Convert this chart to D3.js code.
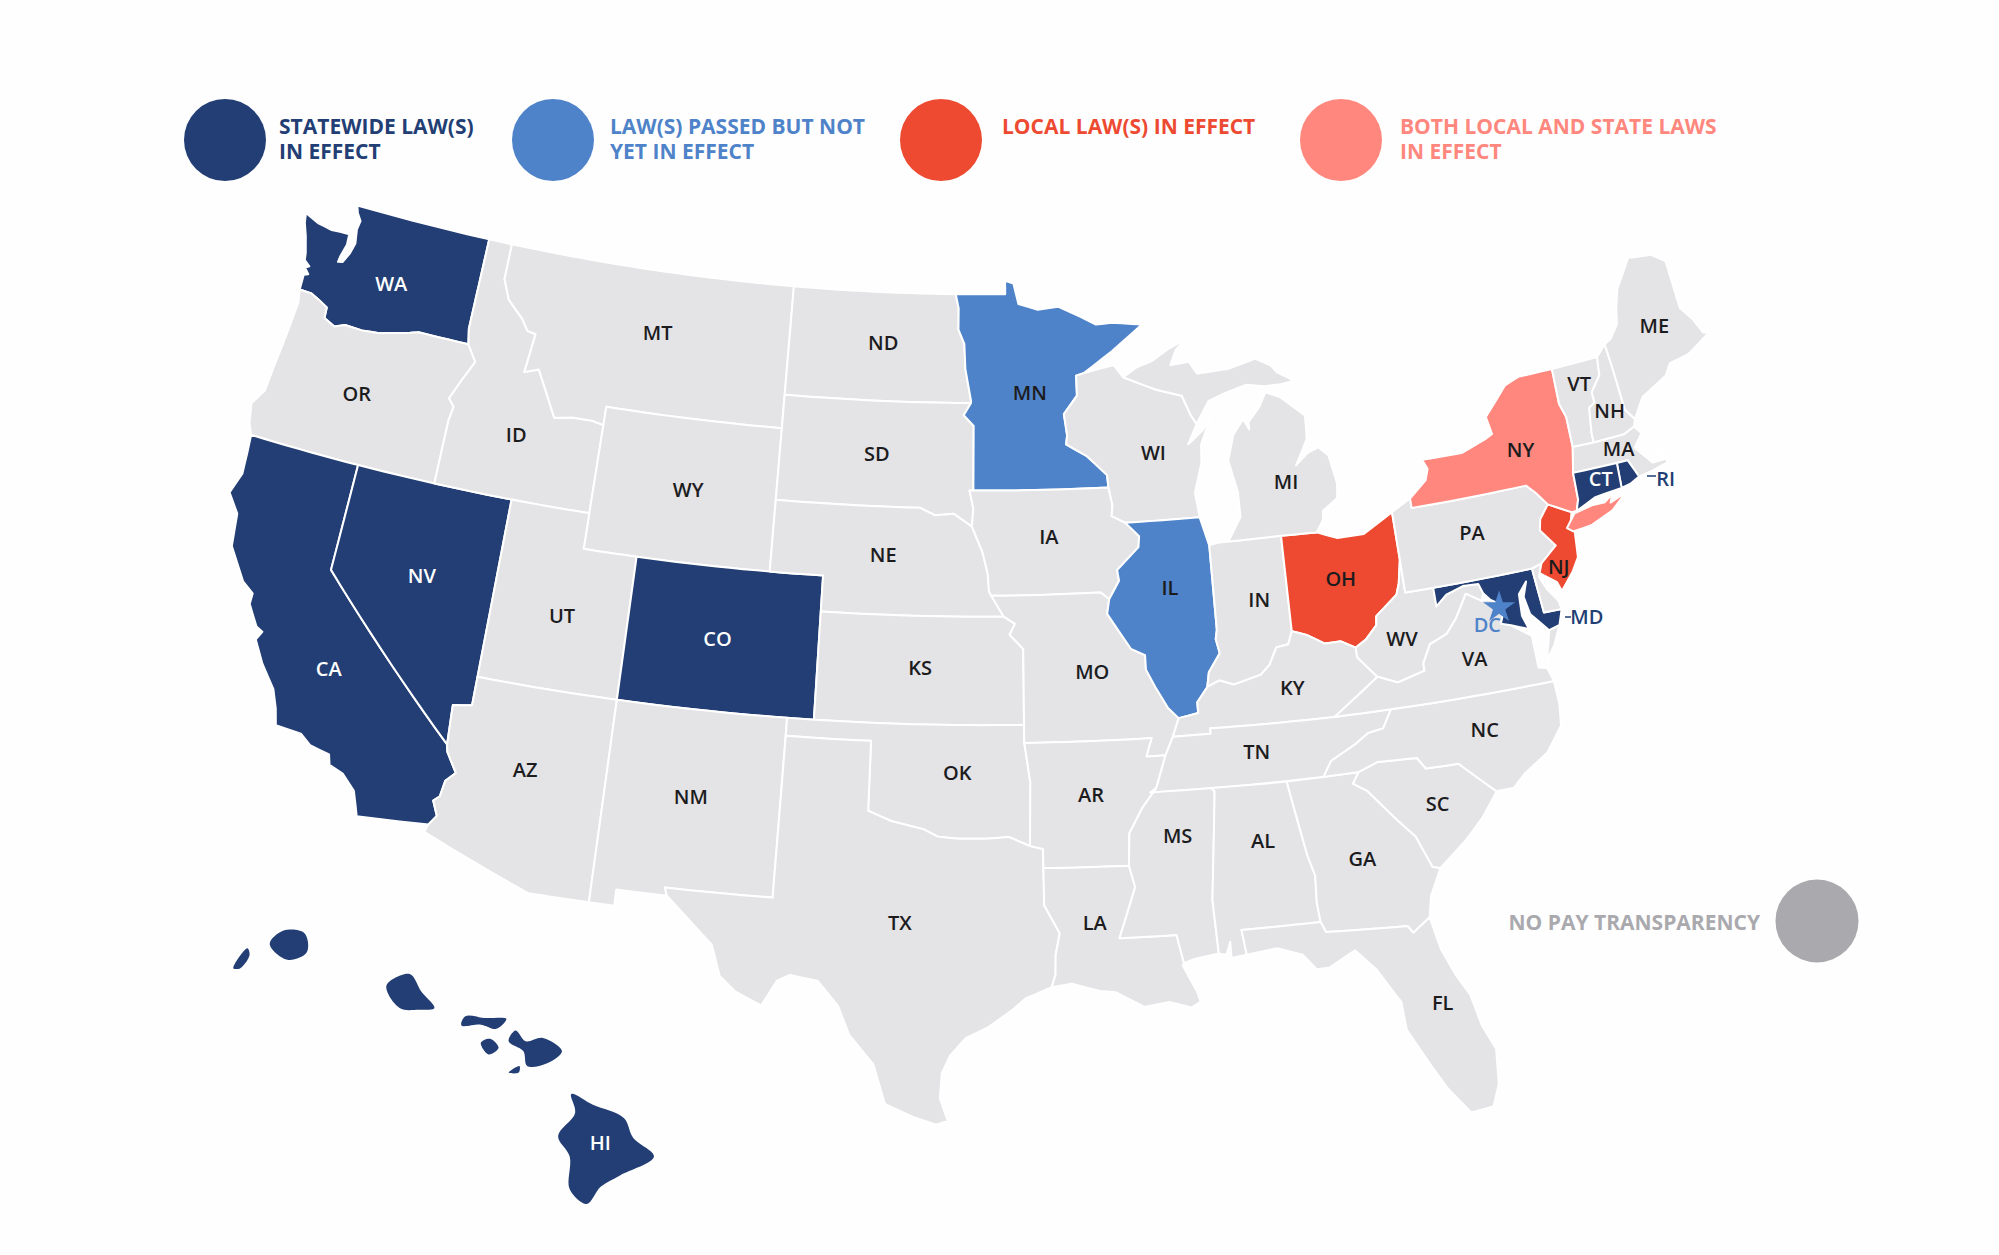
<!DOCTYPE html>
<html>
<head>
<meta charset="utf-8">
<script src="https://cdn.jsdelivr.net/npm/d3@7"></script>
<style>
  html, body { margin: 0; padding: 0; background: #fefefe; }
  svg { display: block; }
  text { font-family: "Open Sans", sans-serif; }
</style>
</head>
<body>
<svg id="map"></svg>
<script>
// Section for Data

// Which states fall under which law category
var statewide = ["WA", "CA", "NV", "CO", "CT", "RI", "MD", "HI"];
var passedNotYet = ["MN", "IL", "DC"];
var localOnly = ["OH", "NJ"];
var bothLocalState = ["NY"];

var legendLabels = [
    ["STATEWIDE LAW(S)", "IN EFFECT"],
    ["LAW(S) PASSED BUT NOT", "YET IN EFFECT"],
    ["LOCAL LAW(S) IN EFFECT"],
    ["BOTH LOCAL AND STATE LAWS", "IN EFFECT"]
];
var noLawLabel = "NO PAY TRANSPARENCY";

// State outlines as [lon, lat] rings, one inner array per landmass
var stateShapes = {
    WA: [[[-122.76,49],[-117.03,49],[-117.04,46.42],[-116.92,45.99],[-118.98,46],[-119.3,45.93],[-120.5,45.7],[-121.2,45.65],[-121.9,45.67],[-122.3,45.55],[-122.77,45.7],[-122.8,46],[-123.2,46.15],[-123.55,46.26],[-124.05,46.27],[-124.07,46.7],[-123.9,46.75],[-124.1,46.9],[-123.95,46.97],[-124.2,47.1],[-124.25,47.3],[-124.45,47.75],[-124.65,48.1],[-124.73,48.38],[-124.1,48.2],[-123.5,48.13],[-123.1,48.15],[-122.75,48.15],[-122.72,47.85],[-122.85,47.5],[-122.88,47.32],[-122.7,47.35],[-122.5,47.65],[-122.4,47.95],[-122.5,48.35],[-122.45,48.6],[-122.65,48.8]]],
    OR: [[[-124.05,46.27],[-123.55,46.26],[-123.2,46.15],[-122.8,46],[-122.77,45.7],[-122.3,45.55],[-121.9,45.67],[-121.2,45.65],[-120.5,45.7],[-119.3,45.93],[-118.98,46],[-116.92,45.99],[-116.5,45.55],[-116.85,45],[-117.2,44.4],[-116.95,44.2],[-117.03,43.8],[-117.03,42],[-124.21,42],[-124.4,42.3],[-124.55,42.84],[-124.2,43.3],[-124.15,43.9],[-124.07,44.6],[-124,45.3],[-123.95,45.9]]],
    CA: [[[-124.21,42],[-120,42],[-120,39],[-114.63,35],[-114.57,34.8],[-114.15,34.27],[-114.45,34],[-114.53,33.55],[-114.72,33.4],[-114.5,33],[-114.72,32.72],[-117.12,32.53],[-117.25,32.85],[-117.4,33.2],[-117.9,33.6],[-118.4,33.75],[-118.5,34.03],[-119.2,34.15],[-119.6,34.4],[-120.5,34.45],[-120.65,34.9],[-120.9,35.4],[-121.5,36],[-121.95,36.6],[-121.8,36.85],[-122.05,36.95],[-122.5,37.5],[-122.5,37.8],[-122.95,38.05],[-123.7,38.9],[-123.85,39.8],[-124.35,40.3],[-124.1,40.9],[-124.15,41.5]]],
    NV: [[[-120,42],[-114.04,42],[-114.04,36.2],[-114.7,36.1],[-114.63,35],[-120,39]]],
    ID: [[[-117.03,49],[-116.05,49],[-116.05,48],[-115.7,47.45],[-115,47],[-114.7,46.7],[-114.35,46.65],[-114.5,45.55],[-113.95,45.7],[-113.45,45.05],[-113,44.45],[-112.3,44.55],[-111.5,44.55],[-111.05,44.48],[-111.05,42],[-117.03,42],[-117.03,43.8],[-116.95,44.2],[-117.2,44.4],[-116.85,45],[-116.5,45.55],[-116.92,45.99],[-117.04,46.42]]],
    MT: [[[-116.05,49],[-104.05,49],[-104.05,45],[-111.05,45],[-111.05,44.48],[-111.5,44.55],[-112.3,44.55],[-113,44.45],[-113.45,45.05],[-113.95,45.7],[-114.5,45.55],[-114.35,46.65],[-114.7,46.7],[-115,47],[-115.7,47.45],[-116.05,48]]],
    WY: [[[-111.05,45],[-104.05,45],[-104.05,41],[-111.05,41]]],
    UT: [[[-114.04,42],[-111.05,42],[-111.05,41],[-109.05,41],[-109.05,37],[-114.04,37]]],
    CO: [[[-109.05,41],[-102.05,41],[-102.05,37],[-109.05,37]]],
    AZ: [[[-114.04,37],[-109.05,37],[-109.05,31.33],[-111.07,31.33],[-114.81,32.5],[-114.72,32.72],[-114.5,33],[-114.72,33.4],[-114.53,33.55],[-114.45,34],[-114.15,34.27],[-114.57,34.8],[-114.63,35],[-114.7,36.1],[-114.04,36.2]]],
    NM: [[[-109.05,37],[-103,37],[-103.04,32],[-106.62,32],[-106.53,31.78],[-108.21,31.78],[-108.21,31.33],[-109.05,31.33]]],
    ND: [[[-104.05,49],[-97.23,49],[-97.1,48.6],[-97.1,48],[-96.85,47.6],[-96.8,46.9],[-96.56,46],[-96.56,45.94],[-104.05,45.94]]],
    SD: [[[-104.05,45.94],[-96.56,45.94],[-96.85,45.6],[-96.45,45.3],[-96.45,43.5],[-96.6,43.5],[-96.45,43],[-96.5,42.5],[-97.2,42.85],[-97.9,42.8],[-98.5,43],[-104.05,43]]],
    NE: [[[-104.05,43],[-98.5,43],[-97.9,42.8],[-97.2,42.85],[-96.5,42.5],[-96.1,41.8],[-95.9,41.2],[-95.85,40.7],[-95.31,40],[-102.05,40],[-102.05,41],[-104.05,41]]],
    KS: [[[-102.05,40],[-95.31,40],[-94.9,39.8],[-95.1,39.5],[-94.61,39.1],[-94.62,37],[-102.05,37]]],
    OK: [[[-103,37],[-94.62,37],[-94.62,36.5],[-94.43,35.4],[-94.48,33.64],[-95.2,33.9],[-96,33.85],[-96.9,33.85],[-97.6,33.9],[-98.1,34.1],[-99.2,34.3],[-100,34.56],[-100,36.5],[-103,36.5]]],
    TX: [[[-106.62,32],[-103.04,32],[-103,36.5],[-100,36.5],[-100,34.56],[-99.2,34.3],[-98.1,34.1],[-97.6,33.9],[-96.9,33.85],[-96,33.85],[-95.2,33.9],[-94.48,33.64],[-94.04,33.55],[-94.04,33.02],[-94.04,31.99],[-93.55,31.2],[-93.7,30.6],[-93.72,30.05],[-93.85,29.7],[-94.7,29.4],[-95.1,29.1],[-95.9,28.6],[-96.6,28.3],[-97.1,27.8],[-97.35,27.3],[-97.4,26.6],[-97.15,25.96],[-97.5,25.85],[-98.2,26.05],[-99.1,26.4],[-99.5,27.5],[-100.3,28.3],[-100.7,29.1],[-101.4,29.77],[-102.3,29.88],[-102.7,29.7],[-103.15,28.98],[-104,29.3],[-104.55,29.7],[-104.9,30.55],[-106,31.39],[-106.53,31.78]]],
    MN: [[[-97.23,49],[-95.15,49],[-95.15,49.38],[-94.8,49.3],[-94.6,48.72],[-93.8,48.55],[-92.95,48.62],[-92,48.3],[-91.4,48.07],[-90.75,48.1],[-89.5,48],[-90.8,47.3],[-92,46.72],[-92.3,46.66],[-92.3,46.1],[-92.85,45.6],[-92.75,45],[-92.8,44.75],[-92,44.4],[-91.25,43.85],[-91.22,43.5],[-96.45,43.5],[-96.45,45.3],[-96.85,45.6],[-96.56,45.94],[-96.56,46],[-96.8,46.9],[-96.85,47.6],[-97.1,48],[-97.1,48.6]]],
    IA: [[[-96.45,43.5],[-91.22,43.5],[-91.1,43],[-91.15,42.7],[-90.65,42.5],[-90.15,42.1],[-90.2,41.8],[-91.05,41.2],[-91,40.9],[-91.4,40.4],[-91.7,40.6],[-95.77,40.58],[-95.85,40.7],[-95.9,41.2],[-96.1,41.8],[-96.5,42.5],[-96.45,43],[-96.6,43.5]]],
    MO: [[[-95.77,40.58],[-91.7,40.6],[-91.4,40.4],[-91.5,40],[-91.1,39.5],[-90.7,39],[-90.2,38.8],[-90.2,38.4],[-89.9,37.9],[-89.5,37.3],[-89.15,37],[-89.4,36.5],[-89.7,36],[-90.37,36],[-90.15,36.5],[-94.62,36.5],[-94.62,37],[-94.61,39.1],[-95.1,39.5],[-94.9,39.8],[-95.31,40]]],
    AR: [[[-94.62,36.5],[-90.15,36.5],[-90.37,36],[-89.7,36],[-90.1,35.1],[-90.6,34.6],[-91.1,33.9],[-91.17,33],[-94.04,33.02],[-94.04,33.55],[-94.48,33.64],[-94.43,35.4]]],
    LA: [[[-94.04,33.02],[-91.17,33],[-91,32.4],[-91.6,31],[-89.73,31],[-89.55,30.2],[-89.6,30.15],[-89.2,29.4],[-89.1,29.1],[-89.4,28.95],[-90.1,29.15],[-90.9,29.05],[-91.8,29.5],[-92.3,29.55],[-93.2,29.78],[-93.85,29.7],[-93.72,30.05],[-93.7,30.6],[-93.55,31.2],[-94.04,31.99]]],
    WI: [[[-92,46.72],[-91.2,46.85],[-90.75,46.9],[-90.4,46.55],[-89.1,46.14],[-88.1,45.92],[-87.8,45.35],[-87.6,45.1],[-88,44.55],[-87.4,44.9],[-87.05,45.25],[-87.5,44.5],[-87.55,44],[-87.9,43.2],[-87.8,42.5],[-90.65,42.5],[-91.15,42.7],[-91.1,43],[-91.22,43.5],[-91.25,43.85],[-92,44.4],[-92.8,44.75],[-92.75,45],[-92.85,45.6],[-92.3,46.1],[-92.3,46.66]]],
    IL: [[[-90.65,42.5],[-87.8,42.5],[-87.55,41.75],[-87.53,41.7],[-87.53,39.35],[-87.6,39.1],[-87.5,38.7],[-87.95,38.2],[-88.05,37.8],[-88.45,37.4],[-88.45,37.1],[-89.15,37],[-89.5,37.3],[-89.9,37.9],[-90.2,38.4],[-90.2,38.8],[-90.7,39],[-91.1,39.5],[-91.5,40],[-91.4,40.4],[-91,40.9],[-91.05,41.2],[-90.2,41.8],[-90.15,42.1]]],
    IN: [[[-87.53,41.7],[-87.2,41.75],[-86.8,41.76],[-84.8,41.76],[-84.82,39.1],[-85,38.75],[-85.45,38.7],[-85.75,38.25],[-86.1,38],[-86.6,37.9],[-87.1,37.8],[-87.6,37.95],[-88.05,37.8],[-87.95,38.2],[-87.5,38.7],[-87.6,39.1],[-87.53,39.35]]],
    OH: [[[-84.8,41.76],[-83.45,41.73],[-82.7,41.5],[-81.7,41.5],[-80.52,41.98],[-80.52,40.64],[-80.7,40],[-80.85,39.7],[-81.7,39.2],[-81.75,38.95],[-82.2,38.6],[-82.6,38.42],[-83.1,38.65],[-83.7,38.65],[-84.3,38.95],[-84.82,39.1]]],
    KY: [[[-89.15,37],[-88.45,37.1],[-88.45,37.4],[-88.05,37.8],[-87.6,37.95],[-87.1,37.8],[-86.6,37.9],[-86.1,38],[-85.75,38.25],[-85.45,38.7],[-85,38.75],[-84.82,39.1],[-84.3,38.95],[-83.7,38.65],[-83.1,38.65],[-82.6,38.42],[-82.6,38.15],[-82,37.55],[-81.97,37.54],[-83.68,36.6],[-88.07,36.65],[-88.07,36.5],[-89.4,36.5]]],
    TN: [[[-89.7,36],[-89.4,36.5],[-88.07,36.5],[-88.07,36.65],[-83.68,36.6],[-81.68,36.59],[-82.05,36.1],[-82.6,36.03],[-83.1,35.77],[-84,35.4],[-84.32,34.99],[-90.3,35],[-90.1,35.1]]],
    MS: [[[-90.3,35],[-88.2,35],[-88.1,34.9],[-88.47,31.9],[-88.4,30.4],[-89.2,30.3],[-89.55,30.2],[-89.73,31],[-91.6,31],[-91,32.4],[-91.17,33],[-91.1,33.9],[-90.6,34.6],[-90.1,35.1]]],
    AL: [[[-88.2,35],[-85.6,34.98],[-85.18,32.87],[-85,32.3],[-85.05,31.55],[-85,31],[-87.6,31],[-87.5,30.3],[-88,30.25],[-88,30.7],[-88.15,30.35],[-88.4,30.4],[-88.47,31.9],[-88.1,34.9]]],
    GA: [[[-85.6,34.98],[-83.1,35],[-83.35,34.7],[-82.9,34.45],[-82,33.5],[-81.5,33],[-81.1,32.1],[-80.85,32.03],[-81.3,31.3],[-81.45,30.72],[-82.05,30.36],[-82.2,30.57],[-84.86,30.7],[-85,31],[-85.05,31.55],[-85,32.3],[-85.18,32.87]]],
    FL: [[[-87.6,31],[-85,31],[-84.86,30.7],[-82.2,30.57],[-82.05,30.36],[-81.45,30.72],[-81.25,29.8],[-80.9,29],[-80.55,28.4],[-80.35,27.5],[-80.03,26.8],[-80.13,25.8],[-80.4,25.2],[-81.1,25.13],[-81.7,25.9],[-82.1,26.6],[-82.7,27.7],[-82.75,28.5],[-83.4,29.5],[-84,30.1],[-84.9,29.7],[-85.3,29.7],[-85.7,30.15],[-86.5,30.4],[-87.5,30.3]]],
    SC: [[[-83.1,35],[-82.4,35.2],[-81.05,35.15],[-80.8,34.82],[-79.67,34.8],[-78.55,33.86],[-79.2,33.2],[-79.9,32.65],[-80.85,32.03],[-81.1,32.1],[-81.5,33],[-82,33.5],[-82.9,34.45],[-83.35,34.7]]],
    NC: [[[-84.32,34.99],[-84,35.4],[-83.1,35.77],[-82.6,36.03],[-82.05,36.1],[-81.68,36.59],[-75.87,36.55],[-75.85,35.9],[-75.95,35.3],[-76.6,34.65],[-77.5,34.2],[-77.95,33.87],[-78.55,33.86],[-79.67,34.8],[-80.8,34.82],[-81.05,35.15],[-82.4,35.2],[-83.1,35]]],
    VA: [[[-83.68,36.6],[-81.97,37.54],[-81.3,37.3],[-80.3,37.5],[-80.3,37.7],[-79.95,38.2],[-79.3,38.4],[-78.87,38.77],[-78.35,39.4],[-77.83,39.13],[-77.5,39.1],[-77.04,38.85],[-77.3,38.4],[-76.95,38.3],[-76.3,37.9],[-76.3,37],[-76,36.93],[-75.87,36.55],[-81.68,36.59]],
         [[-75.95,37.15],[-75.65,37.95],[-75.25,38.03],[-75.6,37.5]]],
    WV: [[[-80.52,40.64],[-80.52,39.72],[-79.48,39.72],[-79.48,39.2],[-79.05,39.47],[-78.4,39.62],[-77.83,39.6],[-77.72,39.32],[-77.83,39.13],[-78.35,39.4],[-78.87,38.77],[-79.3,38.4],[-79.95,38.2],[-80.3,37.7],[-80.3,37.5],[-81.3,37.3],[-81.97,37.54],[-82,37.55],[-82.6,38.15],[-82.6,38.42],[-82.2,38.6],[-81.75,38.95],[-81.7,39.2],[-80.85,39.7],[-80.7,40]]],
    MD: [[[-79.48,39.72],[-75.79,39.72],[-75.7,38.46],[-75.05,38.45],[-75.25,38.03],[-75.65,37.95],[-75.9,38.2],[-76.2,38.5],[-76.3,39],[-76.1,39.4],[-76.45,39.1],[-76.5,38.5],[-76.35,38.1],[-76.95,38.3],[-77.3,38.4],[-77.04,38.85],[-77.5,39.1],[-77.72,39.32],[-77.83,39.6],[-78.4,39.62],[-79.05,39.47],[-79.48,39.2]]],
    DE: [[[-75.79,39.72],[-75.41,39.8],[-75.6,39.45],[-75.4,39.05],[-75.1,38.7],[-75.05,38.45],[-75.7,38.46]]],
    PA: [[[-80.52,41.98],[-79.76,42.27],[-79.76,42],[-75.35,42],[-75.05,41.75],[-74.7,41.36],[-75.1,41],[-75.2,40.7],[-74.75,40.2],[-75.41,39.8],[-75.79,39.72],[-80.52,39.72]]],
    NJ: [[[-74.7,41.36],[-73.9,41],[-74.05,40.65],[-73.95,40.45],[-74.05,39.75],[-74.35,39.4],[-74.9,38.93],[-75,39.2],[-75.55,39.55],[-75.41,39.8],[-74.75,40.2],[-75.2,40.7],[-75.1,41]]],
    NY: [[[-79.76,42.27],[-79.05,42.7],[-78.9,43],[-79.05,43.27],[-77.5,43.25],[-76.5,43.5],[-76.2,43.6],[-76.3,44.1],[-75.3,44.85],[-74.7,45],[-73.35,45],[-73.4,44],[-73.25,43.6],[-73.28,42.75],[-73.5,42.05],[-73.55,41.3],[-73.7,41],[-73.9,41],[-74.7,41.36],[-75.05,41.75],[-75.35,42],[-79.76,42]],
         [[-74.2,40.6],[-73.8,40.95],[-73.1,41.05],[-72.6,41.05],[-72.25,41.22],[-72.4,41],[-71.75,41.17],[-72.4,40.78],[-73.3,40.52],[-74,40.47]]],
    VT: [[[-73.35,45],[-71.5,45.01],[-71.6,44.5],[-72.05,44.1],[-72.05,43.8],[-72.3,43.7],[-72.45,43],[-72.46,42.73],[-73.28,42.75],[-73.25,43.6],[-73.4,44]]],
    NH: [[[-71.5,45.01],[-71.08,45.3],[-71.03,44.65],[-70.98,43.4],[-70.7,43.07],[-70.82,42.87],[-71.25,42.74],[-72.46,42.73],[-72.45,43],[-72.3,43.7],[-72.05,43.8],[-72.05,44.1],[-71.6,44.5]]],
    ME: [[[-71.08,45.3],[-70.8,45.4],[-70.4,45.75],[-70.25,46.2],[-70,46.7],[-69.23,47.46],[-69,47.43],[-68.3,47.36],[-67.8,47.07],[-67.8,45.7],[-67.45,45.3],[-67.2,44.85],[-67,44.8],[-68,44.4],[-68.8,44.3],[-69.1,44],[-69.8,43.75],[-70.2,43.6],[-70.7,43.07],[-70.98,43.4],[-71.03,44.65]]],
    MA: [[[-73.5,42.05],[-73.28,42.75],[-72.46,42.73],[-71.25,42.74],[-70.82,42.87],[-70.6,42.65],[-71,42.3],[-70.65,41.95],[-70.5,41.78],[-70,41.78],[-70.05,42.05],[-70.25,42.07],[-69.95,41.9],[-69.95,41.67],[-70.65,41.55],[-71.12,41.5],[-71.2,41.67],[-71.38,42.02],[-71.8,42.02]]],
    RI: [[[-71.8,42.02],[-71.38,42.02],[-71.2,41.67],[-71.12,41.5],[-71.5,41.37],[-71.86,41.32]]],
    CT: [[[-73.5,42.05],[-71.8,42.02],[-71.86,41.32],[-72.9,41.25],[-73.7,41],[-73.55,41.3]]],
    MI: [[[-86.8,41.76],[-84.8,41.76],[-83.45,41.73],[-83.15,42.05],[-83.1,42.3],[-82.5,42.6],[-82.42,43],[-82.6,43.8],[-82.95,44.07],[-83.4,43.95],[-83.9,43.65],[-83.35,44.35],[-83.3,45],[-84.2,45.6],[-84.75,45.78],[-85.05,45.4],[-85.55,45],[-85.55,44.8],[-85.75,45.1],[-86.2,44.7],[-86.5,44],[-86.25,43.1],[-86.25,42.4]],
         [[-90.4,46.55],[-89.1,46.14],[-88.1,45.92],[-87.8,45.35],[-87.6,45.1],[-87.05,45.7],[-86.5,45.85],[-85.5,46.05],[-84.75,45.95],[-84.1,45.95],[-83.55,46],[-84.2,46.3],[-84.4,46.5],[-85,46.75],[-86.1,46.55],[-87.4,46.5],[-87.7,46.85],[-88.45,46.8],[-88.2,47.2],[-87.8,47.47],[-88.5,47.25],[-89.2,46.95],[-89.85,46.8]]]
};

// Hawaii is drawn in its own inset, island by island
var hawaiiIslands = [
    [[-155.88,20.26],[-155.6,20.13],[-155.2,19.97],[-155.08,19.73],[-154.81,19.5],[-155.25,19.27],[-155.5,19.13],[-155.68,18.92],[-155.9,19.1],[-155.9,19.5],[-156.05,19.75],[-155.83,20.03]],
    [[-156.69,20.9],[-156.6,21.03],[-156.47,20.9],[-156.25,20.94],[-156,20.78],[-156.2,20.63],[-156.45,20.6],[-156.5,20.78]],
    [[-157.3,21.09],[-157.25,21.2],[-157,21.18],[-156.72,21.17],[-156.85,21.05],[-157.05,21.1]],
    [[-157.05,20.88],[-156.93,20.93],[-156.82,20.82],[-156.95,20.74]],
    [[-156.69,20.52],[-156.55,20.6],[-156.56,20.52]],
    [[-158.27,21.57],[-157.97,21.71],[-157.82,21.5],[-157.65,21.3],[-157.85,21.28],[-158.1,21.3]],
    [[-159.78,22.07],[-159.6,22.23],[-159.33,22.2],[-159.3,21.97],[-159.55,21.88]],
    [[-160.25,21.78],[-160.07,22.02],[-160.04,21.94],[-160.16,21.78]]
];

// Section for layout

var width = 1999, height = 1255;
var k = 1.2745; // label spots below were read at 1/k of the full picture

var labelSpots = {
    WA:[307,223], OR:[280,309], CA:[258,525], NV:[331,452], ID:[405,341], MT:[516,261], WY:[540,384],
    UT:[441,483], CO:[563,501], AZ:[412,604], NM:[542,625], ND:[693,269], SD:[688,356], NE:[693,435],
    KS:[722,524], OK:[751,606], TX:[706,724], MN:[808,308], IA:[823,421], MO:[857,527], AR:[856,624],
    LA:[859,724], WI:[905,355], IL:[918,461], MI:[1009,378], IN:[988,471], OH:[1052,454], KY:[1014,540],
    TN:[986,590], MS:[924,656], AL:[991,660], GA:[1069,674], FL:[1132,787], SC:[1128,631], NC:[1165,573],
    VA:[1157,517], WV:[1100,501], PA:[1155,418], NY:[1193,353], VT:[1239,301], NH:[1263,322], ME:[1298,256],
    MA:[1270,352], CT:[1256,376], RI:[1307,376], NJ:[1223,445], MD:[1245,484], DC:[1167,490], HI:[471,897]
};

var colors = {
    statewide: "#223e74",
    passed: "#4f83c9",
    local: "#ed4a31",
    both: "#ff877d",
    none: "#e4e3e6",
    noneDot: "#a9a9ae"
};

var legendDots = [225, 553, 941, 1341];
var legendColors = [colors.statewide, colors.passed, colors.local, colors.both];
var legendTextX = [279, 610, 1002, 1400];

function stateColor(code) {
    if (statewide.indexOf(code) >= 0) return colors.statewide;
    if (passedNotYet.indexOf(code) >= 0) return colors.passed;
    if (localOnly.indexOf(code) >= 0) return colors.local;
    if (bothLocalState.indexOf(code) >= 0) return colors.both;
    return colors.none;
}

// Long straight edges run along parallels, so add points before projecting
function densify(ring) {
    var out = [];
    ring.forEach(function (p, i) {
        var q = ring[(i + 1) % ring.length];
        var steps = Math.max(1, Math.ceil(d3.max([Math.abs(q[0] - p[0]), Math.abs(q[1] - p[1])]) / 0.5));
        for (var s = 0; s < steps; s++) {
            out.push([p[0] + (q[0] - p[0]) * s / steps, p[1] + (q[1] - p[1]) * s / steps]);
        }
    });
    return out;
}

// Section for the map

var svg = d3.select("#map").attr("width", width).attr("height", height);

var projection = d3.geoAlbers()
    .rotate([96, 0])
    .center([0, 38])
    .parallels([29.5, 45.5])
    .scale(2050)
    .translate([985, 689]);

var hawaiiProjection = d3.geoMercator()
    .center([-157.5, 20.6])
    .scale(4430)
    .translate([446, 1066]);

var line = d3.line();
var smoothLine = d3.line().curve(d3.curveCatmullRomClosed);

var stateCodes = Object.keys(stateShapes);

svg.append("g").attr("class", "states")
    .selectAll("path")
    .data(stateCodes)
    .enter().append("path")
    .attr("d", function (code) {
        return stateShapes[code].map(function (ring) {
            return line(densify(ring).map(projection)) + "Z";
        }).join("");
    })
    .attr("fill", stateColor)
    .attr("stroke", "#fff")
    .attr("stroke-width", 2)
    .attr("stroke-linejoin", "round");

svg.append("g").attr("class", "hawaii")
    .selectAll("path")
    .data(hawaiiIslands)
    .enter().append("path")
    .attr("d", function (ring) { return smoothLine(ring.map(hawaiiProjection)); })
    .attr("fill", stateColor("HI"));

// DC marker
var dcSpot = projection([-77.25, 38.85]);
svg.append("path")
    .attr("d", d3.symbol().type(d3.symbolStar).size(320)())
    .attr("transform", "translate(" + dcSpot[0] + "," + dcSpot[1] + ")")
    .attr("fill", colors.passed);

// Section for labels

var darkOn = ["WA", "CA", "NV", "CO", "CT", "HI"];
var outsideLabels = { RI: colors.statewide, MD: colors.statewide, DC: colors.passed };

svg.append("g").attr("class", "labels")
    .selectAll("text")
    .data(Object.keys(labelSpots))
    .enter().append("text")
    .attr("x", function (code) { return labelSpots[code][0] * k; })
    .attr("y", function (code) { return labelSpots[code][1] * k; })
    .attr("dy", "0.36em")
    .attr("text-anchor", "middle")
    .attr("font-size", 20)
    .attr("font-weight", 600)
    .attr("fill", function (code) {
        if (outsideLabels[code]) return outsideLabels[code];
        return darkOn.indexOf(code) >= 0 ? "#fff" : "#1c1c1e";
    })
    .text(function (code) { return code; });

// Leader ticks for the two small states labelled off the map
svg.append("g").attr("class", "leaders")
    .selectAll("line")
    .data([[1647, 1656, 476], [1565, 1571, 617]])
    .enter().append("line")
    .attr("x1", function (d) { return d[0]; })
    .attr("x2", function (d) { return d[1]; })
    .attr("y1", function (d) { return d[2]; })
    .attr("y2", function (d) { return d[2]; })
    .attr("stroke", colors.statewide)
    .attr("stroke-width", 1.5);

// Section for legend

var legend = svg.append("g").attr("class", "legend");

legend.selectAll("circle")
    .data(legendDots)
    .enter().append("circle")
    .attr("cx", function (d) { return d; })
    .attr("cy", 140)
    .attr("r", 41)
    .attr("fill", function (d, i) { return legendColors[i]; });

legendLabels.forEach(function (lines, i) {
    legend.append("text")
        .attr("font-size", 21)
        .attr("font-weight", 700)
        .attr("fill", legendColors[i])
        .selectAll("tspan")
        .data(lines)
        .enter().append("tspan")
        .attr("x", legendTextX[i])
        .attr("y", function (d, j) { return 134 + j * 25; })
        .text(function (d) { return d; });
});

legend.append("circle")
    .attr("cx", 1817)
    .attr("cy", 921)
    .attr("r", 41.5)
    .attr("fill", colors.noneDot);

legend.append("text")
    .attr("x", 1760)
    .attr("y", 930)
    .attr("text-anchor", "end")
    .attr("font-size", 21)
    .attr("font-weight", 700)
    .attr("fill", colors.noneDot)
    .text(noLawLabel);
</script>
</body>
</html>
